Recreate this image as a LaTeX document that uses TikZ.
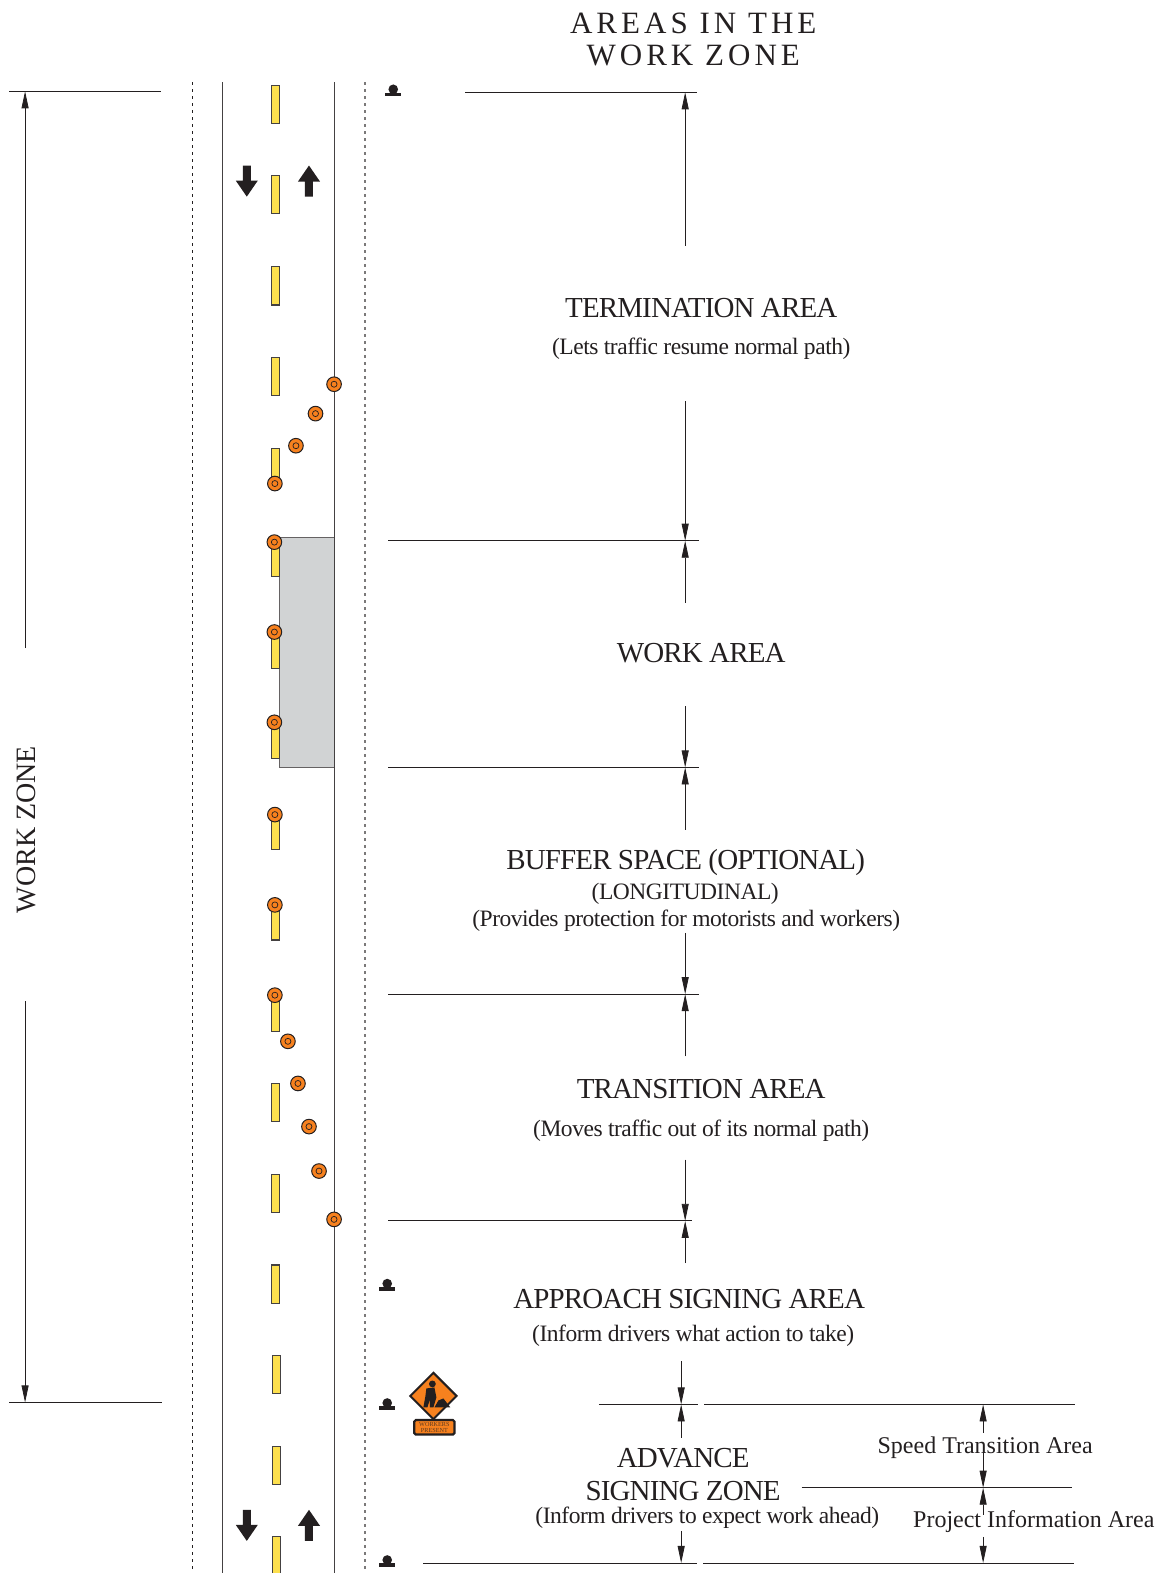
\documentclass[tikz,border=0pt]{standalone}
\usepackage{fontspec}
\setmainfont{Liberation Serif}
\usetikzlibrary{arrows.meta}
\definecolor{ink}{HTML}{231F20}
\definecolor{dashy}{HTML}{FDE04E}
\definecolor{coneo}{HTML}{F7811E}
\definecolor{workg}{HTML}{D1D3D4}
\newfontfamily\titlefont[LetterSpace=13]{Liberation Serif}
\newfontfamily\tightbig[LetterSpace=-3]{Liberation Serif}
\newfontfamily\tightsub[LetterSpace=-2]{Liberation Serif}
\tikzset{
 thinl/.style={draw=ink,line width=0.9pt},
 dimarr/.style={draw=ink,line width=0.8pt,-{Triangle[length=17pt,width=7pt]}},
 big/.style={anchor=base,inner sep=0pt,font=\tightbig\fontsize{29}{29}\selectfont,text=ink},
 sub/.style={anchor=base,inner sep=0pt,font=\tightsub\fontsize{23.5}{23.5}\selectfont,text=ink},
 small/.style={anchor=base,inner sep=0pt,font=\fontsize{24}{24}\selectfont,text=ink},
 ttl/.style={anchor=base,inner sep=0pt,font=\titlefont\fontsize{31}{31}\selectfont,text=ink},
 dashmark/.style={draw=ink!85,fill=dashy,line width=1.1pt},
 conedot/.style={draw=ink,fill=coneo,line width=1pt},
 trafficarrow/.style={fill=ink,draw=none},
}
\newcommand{\dimto}[4]{\coordinate (#1s) at (#2,#3);\coordinate (#1e) at (#2,#4);\draw[dimarr] (#1s)--(#1e);}
\newcommand{\hrl}[4]{\coordinate (#1s) at (#2,#4);\coordinate (#1e) at (#3,#4);\draw[thinl] (#1s)--(#1e);}
\newcommand{\post}[2]{\fill[ink] (#1,#2) circle (4.8);\fill[ink] (#1-8,#2+3.5) rectangle (#1+8,#2+7);}
\begin{document}
\begin{tikzpicture}[x=1.0032pt,y=-1.0032pt]
\useasboundingbox (0,0) rectangle (1154.3,1568);
% road
\draw[ink,line width=1pt,dash pattern=on 3pt off 4pt] (192,82)--(192,1568);
\draw[ink!60,line width=1.6pt,dash pattern=on 3pt off 4pt] (364,82)--(364,1568);
\draw[ink!85,line width=1pt] (222,82)--(222,1568);
% work space
\fill[workg,draw=ink!70,line width=1pt] (279,536) rectangle (333,765);
\draw[ink!85,line width=1pt] (333,82)--(333,1568);
% yellow dashes
\foreach \y in {85,175,266,356,447,537,628,718,809,899,990,1080,1171,1261}
 \draw[dashmark] (270.3,\y) rectangle (278.3,\y+38);
\draw[dashmark] (271.3,1351) rectangle (279.3,1389);
\draw[dashmark] (271.3,1442) rectangle (279.3,1480);
\draw[dashmark] (271.3,1532) rectangle (279.3,1572);
% cones
\foreach \x/\y in {333/383,314.5/412.3,295/444.3,274/482,273.5/540.4,273.5/630,273.5/720,274/812,274/902,274/992,287/1038,297/1080,308/1123,318/1167.3,333/1215.5}{
 \draw[conedot] (\x,\y) circle (7.3);
 \draw[ink,line width=0.7pt] (\x,\y) circle (3);
}
% traffic arrows
\foreach \yy in {165,1505}{
 \fill[trafficarrow] (242,\yy)--(250,\yy)--(250,\yy+15)--(257,\yy+15)--(246,\yy+31)--(235,\yy+15)--(242,\yy+15)--cycle;
 \fill[trafficarrow] (308,\yy)--(319,\yy+16)--(312,\yy+16)--(312,\yy+31)--(304,\yy+31)--(304,\yy+16)--(297,\yy+16)--cycle;
}
% posts
\post{392}{89}
\post{386}{1279.5}
\post{386}{1398.5}
\post{386}{1555}
% sign
\fill[ink] (432,1367)--(456.5,1391.5)--(432,1416)--(407.5,1391.5)--cycle;
\fill[coneo] (432,1370)--(453.5,1391.5)--(432,1413)--(410.5,1391.5)--cycle;
\fill[ink] (431,1379.5) circle (3.4);
\fill[ink] (425,1384)--(433,1383)--(435,1393)--(432,1403)--(428.5,1403)--(428.5,1395)--(426,1403)--(422,1403)--(424,1392)--cycle;
\fill[ink] (433,1403)--(437,1396)--(442,1394)--(449,1403)--cycle;
\draw[ink,line width=2.2pt,fill=coneo,rounded corners=1.5pt] (413,1415.5) rectangle (453,1430);
\node[inner sep=0pt,text=ink!75!coneo,align=center,font=\fontsize{6.2}{6.6}\selectfont] (plate) at (433,1423) {WORKERS\\PRESENT};
% work zone
\hrl{wza}{9}{160}{91}
\hrl{wzb}{9}{161}{1398}
\node[inner sep=0pt,rotate=90,font=\fontsize{28}{28}\selectfont,text=ink] (wz) at (26,827) {WORK ZONE};
\dimto{wzu}{25}{646}{91}
\dimto{wzd}{25}{998}{1398}
% horizontal lines
\hrl{ha}{464}{695}{92}
\hrl{hb}{387}{697}{539}
\hrl{hc}{387}{697}{765}
\hrl{hd}{387}{697}{991}
\hrl{he}{387}{690}{1217}
\hrl{hf}{597}{696}{1400}
\hrl{hg}{702}{1072}{1400}
\hrl{hh}{799}{1069}{1483}
\hrl{hi}{422}{695}{1558}
\hrl{hj}{701}{1071}{1558}
% dimension arrows
\dimto{a1}{683}{245}{92}
\dimto{a2}{683}{400}{539}
\dimto{a3}{683}{601}{539}
\dimto{a4}{683}{704}{765}
\dimto{a5}{683}{827}{765}
\dimto{a6}{683}{930}{991}
\dimto{a7}{683}{1053}{991}
\dimto{a8}{683}{1156}{1217}
\dimto{a9}{683}{1259}{1217}
\dimto{a10}{679}{1357}{1400}
\dimto{a11}{679}{1433}{1400}
\dimto{a12}{679}{1526}{1558}
\dimto{a13}{980}{1428}{1400}
\dimto{a14}{980}{1446}{1483}
\dimto{a15}{980}{1510}{1483}
\dimto{a16}{980}{1532}{1558}
% text
\node[ttl] (t1) at (691,33) {AREAS IN THE};
\node[ttl] (t2) at (691,65) {WORK ZONE};
\node[big] (term) at (699,316) {TERMINATION AREA};
\node[sub] (terms) at (699,353) {(Lets traffic resume normal path)};
\node[big] (work) at (699,660) {WORK AREA};
\node[big] (buf) at (683.5,867) {BUFFER SPACE (OPTIONAL)};
\node[sub] (bufa) at (683,897) {(LONGITUDINAL)};
\node[sub] (bufb) at (684,924) {(Provides protection for motorists and workers)};
\node[big] (tran) at (699,1095) {TRANSITION AREA};
\node[sub] (trans) at (699,1133) {(Moves traffic out of its normal path)};
\node[big] (app) at (687,1304) {APPROACH SIGNING AREA};
\node[sub] (apps) at (691,1337) {(Inform drivers what action to take)};
\node[big] (adv) at (681,1463) {ADVANCE};
\node[big] (advb) at (681,1496) {SIGNING ZONE};
\node[sub] (advs) at (705,1519) {(Inform drivers to expect work ahead)};
\node[small] (sp) at (982,1449) {Speed Transition Area};
\node[small] (pr) at (1030.5,1523) {Project Information Area};
\end{tikzpicture}
\end{document}
